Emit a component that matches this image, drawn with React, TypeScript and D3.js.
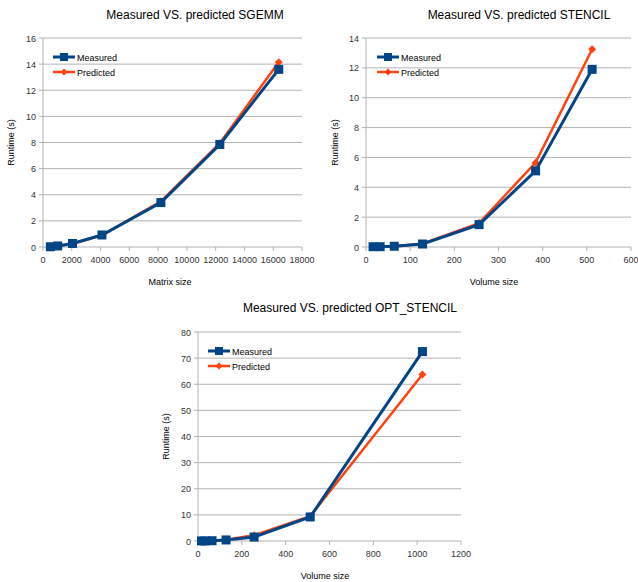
import React from "react";
import * as d3 from "d3";

const sgemmSizes = [512, 1024, 2048, 4096, 8192, 12288, 16384];
const sgemmMeasured = [0.02, 0.08, 0.27, 0.92, 3.4, 7.85, 13.6];
const sgemmPredicted = [0.02, 0.07, 0.25, 0.9, 3.5, 7.95, 14.15];

const stencilSizes = [16, 32, 64, 128, 256, 384, 512];
const stencilMeasured = [0.02, 0.02, 0.05, 0.2, 1.5, 5.1, 11.9];
const stencilPredicted = [0.02, 0.02, 0.05, 0.22, 1.6, 5.65, 13.25];

const optSizes = [16, 32, 64, 128, 256, 512, 1024];
const optMeasured = [0.02, 0.03, 0.1, 0.4, 1.5, 9.2, 72.5];
const optPredicted = [0.02, 0.03, 0.1, 0.5, 2.2, 9.5, 63.7];

const seriesNames = ["Measured", "Predicted"];
const BLUE = "#004586";
const ORANGE = "#ff420e";
const GRID = "#b3b3b3";
const FONT = "'Liberation Sans', Arial, sans-serif";

type ChartProps = {
  title: string;
  xLabel: string;
  xs: number[];
  measured: number[];
  predicted: number[];
  xMax: number;
  xStep: number;
  yMax: number;
  yStep: number;
  left: number;
  right: number;
  top: number;
  bottom: number;
  titleX: number;
  titleY: number;
  xLabelX: number;
  xLabelY: number;
  yLabelX: number;
  legendX: number;
  legendY: number;
};

function Chart(p: ChartProps) {
  const x = d3.scaleLinear().domain([0, p.xMax]).range([p.left, p.right]);
  const y = d3.scaleLinear().domain([0, p.yMax]).range([p.bottom, p.top]);
  const xTicks = d3.range(0, p.xMax + p.xStep / 2, p.xStep);
  const yTicks = d3.range(0, p.yMax + p.yStep / 2, p.yStep);
  const line = d3
    .line<number>()
    .x((_, i) => x(p.xs[i]))
    .y((d) => y(d));
  const diamond = (cx: number, cy: number, r: number) =>
    `M${cx},${cy - r}L${cx + r},${cy}L${cx},${cy + r}L${cx - r},${cy}Z`;
  const yMid = (p.top + p.bottom) / 2;
  return (
    <g fontFamily={FONT}>
      <text x={p.titleX} y={p.titleY} textAnchor="middle" fontSize={12} fill="#000">
        {p.title}
      </text>
      {yTicks.map((t) => (
        <g key={"y" + t}>
          <line x1={p.left - 4} x2={p.right} y1={y(t)} y2={y(t)} stroke={GRID} strokeWidth={1} />
          <text x={p.left - 7} y={y(t) + 3.5} textAnchor="end" fontSize={9} fill="#333">
            {t}
          </text>
        </g>
      ))}
      {xTicks.map((t) => (
        <g key={"x" + t}>
          <line x1={x(t)} x2={x(t)} y1={p.bottom} y2={p.bottom + 4} stroke={GRID} strokeWidth={1} />
          <text x={x(t)} y={p.bottom + 16} textAnchor="middle" fontSize={9} fill="#333">
            {t}
          </text>
        </g>
      ))}
      <line x1={p.left} x2={p.left} y1={p.top} y2={p.bottom} stroke={GRID} strokeWidth={1} />
      <text x={p.xLabelX} y={p.xLabelY} textAnchor="middle" fontSize={9} fill="#000">
        {p.xLabel}
      </text>
      <text
        transform={`translate(${p.yLabelX},${yMid}) rotate(-90)`}
        textAnchor="middle"
        fontSize={9}
        fill="#000"
      >
        Runtime (s)
      </text>
      <path d={line(p.predicted) || ""} fill="none" stroke={ORANGE} strokeWidth={2.5} />
      {p.predicted.map((v, i) => (
        <path key={"pd" + i} d={diamond(x(p.xs[i]), y(v), 4)} fill={ORANGE} />
      ))}
      <path d={line(p.measured) || ""} fill="none" stroke={BLUE} strokeWidth={3} />
      {p.measured.map((v, i) => (
        <rect key={"ms" + i} x={x(p.xs[i]) - 4.5} y={y(v) - 4.5} width={9} height={9} fill={BLUE} />
      ))}
      {seriesNames.map((name, i) => {
        const ly = p.legendY + i * 15;
        const col = i === 0 ? BLUE : ORANGE;
        return (
          <g key={name}>
            <line x1={p.legendX} x2={p.legendX + 22} y1={ly} y2={ly} stroke={col} strokeWidth={i === 0 ? 3 : 2.5} />
            {i === 0 ? (
              <rect x={p.legendX + 11 - 4} y={ly - 4} width={8} height={8} fill={col} />
            ) : (
              <path d={diamond(p.legendX + 11, ly, 3.5)} fill={col} />
            )}
            <text x={p.legendX + 24} y={ly + 3.5} fontSize={9} fill="#000">
              {name}
            </text>
          </g>
        );
      })}
    </g>
  );
}

export default function App() {
  return (
    <svg
      width={638}
      height={582}
      style={{ position: "absolute", left: 0, top: 0, background: "#fff" }}
    >
      <rect width={638} height={582} fill="#fff" />
      <Chart
        title="Measured VS. predicted SGEMM"
        xLabel="Matrix size"
        xs={sgemmSizes}
        measured={sgemmMeasured}
        predicted={sgemmPredicted}
        xMax={18000}
        xStep={2000}
        yMax={16}
        yStep={2}
        left={43}
        right={302}
        top={38}
        bottom={247}
        titleX={195}
        titleY={19}
        xLabelX={170}
        xLabelY={285}
        yLabelX={14}
        legendX={53}
        legendY={57}
      />
      <Chart
        title="Measured VS. predicted STENCIL"
        xLabel="Volume size"
        xs={stencilSizes}
        measured={stencilMeasured}
        predicted={stencilPredicted}
        xMax={600}
        xStep={100}
        yMax={14}
        yStep={2}
        left={366}
        right={631}
        top={38}
        bottom={247}
        titleX={519}
        titleY={19}
        xLabelX={494}
        xLabelY={285}
        yLabelX={338}
        legendX={377}
        legendY={57}
      />
      <Chart
        title="Measured VS. predicted OPT_STENCIL"
        xLabel="Volume size"
        xs={optSizes}
        measured={optMeasured}
        predicted={optPredicted}
        xMax={1200}
        xStep={200}
        yMax={80}
        yStep={10}
        left={198}
        right={461}
        top={332}
        bottom={541}
        titleX={350}
        titleY={312}
        xLabelX={325}
        xLabelY={579}
        yLabelX={169}
        legendX={208}
        legendY={351}
      />
    </svg>
  );
}
